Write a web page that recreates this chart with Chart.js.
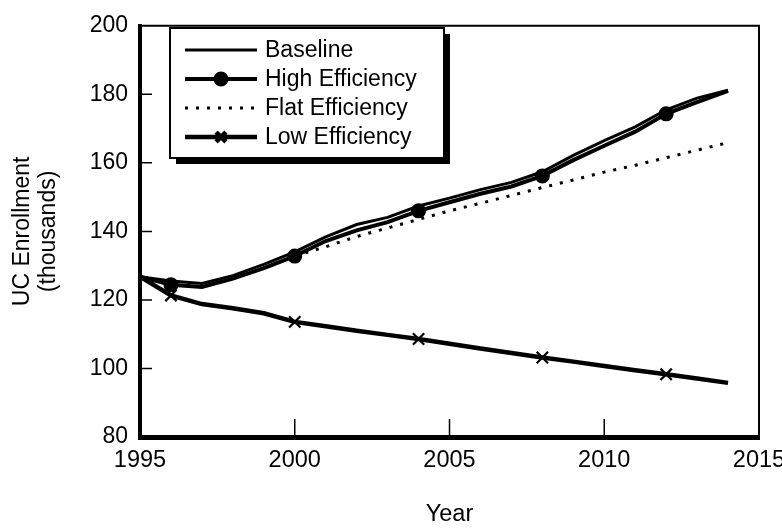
<!DOCTYPE html>
<html>
<head>
<meta charset="utf-8">
<script src="https://cdn.jsdelivr.net/npm/chart.js@4.4.1/dist/chart.umd.min.js"></script>
<style>
  body { margin: 0; background: #fff; }
  canvas { display: block; }
</style>
</head>
<body>
<canvas id="myChart" width="782" height="531"></canvas>
<script>
var years = [1995, 1996, 1997, 1998, 1999, 2000, 2001, 2002, 2003, 2004, 2005, 2006, 2007, 2008, 2009, 2010, 2011, 2012, 2013, 2014]
var baseline = [126.8, 125.5, 124.8, 127.1, 130.4, 134.0, 138.4, 142.0, 144.1, 147.4, 149.7, 152.2, 154.3, 157.4, 162.2, 166.5, 170.5, 175.5, 178.9, 181.2]
var highEff = [126.8, 124.4, 123.8, 126.2, 129.3, 132.8, 137.2, 140.3, 142.7, 146.0, 148.5, 151.0, 153.1, 156.2, 160.8, 165.0, 169.1, 174.3, 177.7, 181.0]
var flatEff = [null, null, null, null, null, 132.8, 135.5, 138.5, 141.0, 143.5, 146.0, 148.2, 150.5, 152.8, 155.0, 157.3, 159.3, 161.5, 163.7, 165.9]
var lowEff = [126.8, 121.3, 118.8, 117.6, 116.1, 113.6, 112.3, 111.0, 109.8, 108.6, 107.2, 105.8, 104.5, 103.2, 102.0, 100.7, 99.5, 98.3, 97.1, 95.8]
var markerYears = [1996, 2000, 2004, 2008, 2012]
var xTicks = [1995, 2000, 2005, 2010, 2015]
var yTicks = [80, 100, 120, 140, 160, 180, 200]

function markers(r) {
    return years.map(function (y) { return markerYears.indexOf(y) >= 0 ? r : 0 })
}

Chart.defaults.font.family = '"Liberation Sans", Arial, sans-serif'
Chart.defaults.font.size = 23.5
Chart.defaults.color = '#000'

// boxed legend with drop shadow, inner ticks and the thin top/right frame
var framePlugin = {
    id: 'frame',
    afterDraw: function (chart) {
        var ctx = chart.ctx
        var a = chart.chartArea
        var xs = chart.scales.x, ys = chart.scales.y
        ctx.save()
        ctx.strokeStyle = '#000'
        ctx.lineWidth = 2
        ctx.beginPath()
        ctx.moveTo(a.left, a.top)
        ctx.lineTo(a.right, a.top)
        ctx.lineTo(a.right, a.bottom)
        ctx.stroke()

        ctx.lineWidth = 1.5
        ctx.beginPath()
        xTicks.slice(1, -1).forEach(function (v) {
            var px = xs.getPixelForValue(v)
            ctx.moveTo(px, a.bottom)
            ctx.lineTo(px, a.bottom - 18)
        })
        yTicks.slice(1, -1).forEach(function (v) {
            var py = ys.getPixelForValue(v)
            ctx.moveTo(a.left, py)
            ctx.lineTo(a.left + 12, py)
        })
        ctx.stroke()

        var lx = 170, ly = 28, lw = 274, lh = 130
        ctx.fillStyle = '#000'
        ctx.fillRect(lx + 6, ly + 6, lw, lh)
        ctx.fillStyle = '#fff'
        ctx.fillRect(lx, ly, lw, lh)
        ctx.lineWidth = 2
        ctx.strokeRect(lx, ly, lw, lh)

        ctx.font = '23px "Liberation Sans", Arial, sans-serif'
        ctx.textBaseline = 'middle'
        chart.data.datasets.forEach(function (ds, i) {
            var y = ly + 22 + i * 29
            ctx.strokeStyle = '#000'
            ctx.fillStyle = '#000'
            ctx.lineWidth = ds.borderWidth
            ctx.setLineDash(ds.borderDash || [])
            ctx.beginPath()
            ctx.moveTo(185, y)
            ctx.lineTo(257, y)
            ctx.stroke()
            ctx.setLineDash([])
            if (ds.legendMarker) {
                Chart.helpers.drawPoint(ctx, { pointStyle: ds.pointStyle, radius: ds.legendMarker, borderWidth: 2.5, rotation: 0 }, 221, y)
            }
            ctx.fillText(ds.label, 265, y + 1)
        })
        ctx.restore()
    }
}

var ctx = document.getElementById('myChart').getContext('2d')
var chart1 = new Chart(ctx, {
    type: 'line',
    plugins: [framePlugin],
    data: {
        labels: years,
        datasets: [{
            label: 'Baseline',
            data: baseline,
            borderColor: '#000',
            borderWidth: 3,
            pointRadius: 0
        }, {
            label: 'High Efficiency',
            data: highEff,
            borderColor: '#000',
            backgroundColor: '#000',
            borderWidth: 4,
            pointStyle: 'circle',
            pointRadius: markers(5.5),
            legendMarker: 5.5
        }, {
            label: 'Flat Efficiency',
            data: flatEff,
            borderColor: '#000',
            borderWidth: 3,
            borderDash: [3, 8],
            pointRadius: 0
        }, {
            label: 'Low Efficiency',
            data: lowEff,
            borderColor: '#000',
            borderWidth: 4.5,
            pointStyle: 'crossRot',
            pointRadius: markers(8),
            pointBorderWidth: 2.2,
            legendMarker: 7
        }]
    },
    options: {
        responsive: false,
        animation: false,
        layout: { padding: { top: 18, right: 23, left: 0, bottom: 0 } },
        plugins: {
            legend: { display: false },
            tooltip: { enabled: false }
        },
        scales: {
            x: {
                type: 'linear',
                min: 1995,
                max: 2015,
                afterBuildTicks: function (s) { s.ticks = xTicks.map(function (v) { return { value: v } }) },
                afterFit: function (s) { s.height = 94; s.paddingLeft = 0; s.paddingRight = 0 },
                grid: { display: false, drawTicks: false },
                border: { display: true, width: 5, color: '#000' },
                ticks: { padding: 9, maxRotation: 0, callback: function (v) { return String(v) } },
                title: { display: true, text: 'Year', padding: { top: 0, bottom: 2 } }
            },
            y: {
                min: 80,
                max: 200,
                afterBuildTicks: function (s) { s.ticks = yTicks.map(function (v) { return { value: v } }) },
                afterFit: function (s) { s.width = 140 },
                grid: { display: false, drawTicks: false },
                border: { display: true, width: 4, color: '#000' },
                ticks: { padding: 12, font: { size: 23 } },
                title: { display: true, text: ['UC Enrollment', '(thousands)'], padding: { top: 9, bottom: 0 }, font: { size: 23, lineHeight: 1.15 } }
            }
        }
    }
})
</script>
</body>
</html>
